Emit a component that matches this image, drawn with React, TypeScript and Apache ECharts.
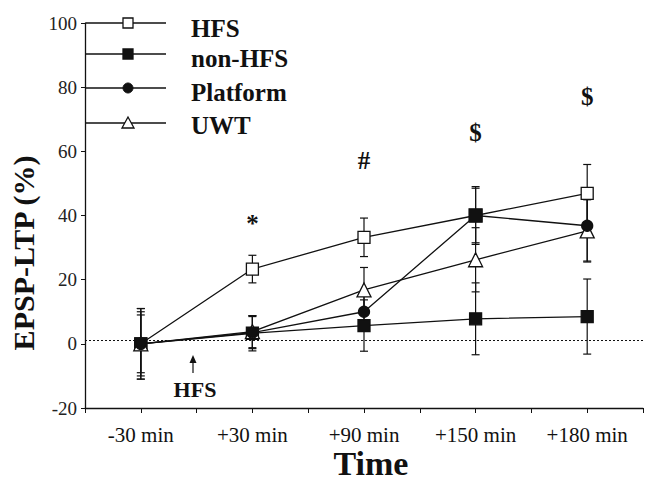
import React, { useEffect, useRef } from "react";
import * as echarts from "echarts";

const categories = ["-30 min", "+30 min", "+90 min", "+150 min", "+180 min"];
const hfs = [0, 23.3, 33.2, 40, 46.9];
const hfsErr = [10, 4.3, 6, 9, 9];
const nonHfs = [0, 3.3, 5.7, 7.8, 8.5];
const nonHfsErr = [11, 5.5, 8, 11.2, 11.7];
const platform = [0, 3.5, 10, 40, 36.8];
const platformErr = [9, 5, 6, 8.5, 11];
const uwt = [0, 3.8, 16.8, 26.2, 35.2];
const uwtErr = [11, 5, 7, 10, 9.7];
const yTicks = [-20, 0, 20, 40, 60, 80, 100];
const annotations = [
  { x: 1, y: 37.5, text: "*" },
  { x: 2, y: 57, text: "#" },
  { x: 3, y: 66, text: "$" },
  { x: 4, y: 77, text: "$" },
];

const FONT = "'Liberation Serif', 'DejaVu Serif', serif";

function errData(vals: number[], errs: number[]) {
  return vals.map((v, i) => [i, v - errs[i], v + errs[i]]);
}

function errSeries(vals: number[], errs: number[]) {
  return {
    type: "custom",
    silent: true,
    z: 1,
    data: errData(vals, errs),
    renderItem: (params: any, api: any) => {
      const x = api.value(0);
      const lo = api.coord([x, api.value(1)]);
      const hi = api.coord([x, api.value(2)]);
      const w = 4;
      const style = { stroke: "#111", lineWidth: 1.2 };
      return {
        type: "group",
        children: [
          { type: "line", shape: { x1: lo[0], y1: lo[1], x2: hi[0], y2: hi[1] }, style },
          { type: "line", shape: { x1: lo[0] - w, y1: lo[1], x2: lo[0] + w, y2: lo[1] }, style },
          { type: "line", shape: { x1: hi[0] - w, y1: hi[1], x2: hi[0] + w, y2: hi[1] }, style },
        ],
      };
    },
  };
}

function lineSeries(name: string, vals: number[], symbol: string, size: number, fill: string, extra: any = {}) {
  return {
    type: "line",
    name,
    data: vals.map((v, i) => [i, v]),
    symbol,
    symbolSize: size,
    showAllSymbol: true,
    z: 3,
    lineStyle: { color: "#111", width: 1.3 },
    itemStyle: { color: fill, borderColor: "#111", borderWidth: 1.3 },
    ...extra,
  };
}

export default function App() {
  const ref = useRef<HTMLDivElement>(null);
  useEffect(() => {
    const chart = echarts.init(ref.current!, null, { renderer: "svg" });
    const legendItems = [
      { name: "HFS", y: 23, ty: 28, kind: "osq" },
      { name: "non-HFS", y: 54, ty: 58, kind: "fsq" },
      { name: "Platform", y: 88, ty: 92, kind: "circle" },
      { name: "UWT", y: 123, ty: 125, kind: "tri" },
    ];
    const legendGraphics: any[] = [];
    legendItems.forEach((it) => {
      const cx = 128;
      legendGraphics.push({
        type: "line",
        shape: { x1: 86, y1: it.y, x2: 166, y2: it.y },
        style: { stroke: "#111", lineWidth: 1.3 },
      });
      if (it.kind === "osq" || it.kind === "fsq") {
        legendGraphics.push({
          type: "rect",
          shape: { x: cx - 5, y: it.y - 5, width: 10, height: 10 },
          style: { fill: it.kind === "osq" ? "#fff" : "#111", stroke: "#111", lineWidth: 1.3 },
        });
      } else if (it.kind === "circle") {
        legendGraphics.push({
          type: "circle",
          shape: { cx: cx, cy: it.y, r: 5 },
          style: { fill: "#111", stroke: "#111" },
        });
      } else {
        legendGraphics.push({
          type: "polygon",
          shape: { points: [[cx, it.y - 6], [cx - 6, it.y + 5], [cx + 6, it.y + 5]] },
          style: { fill: "#fff", stroke: "#111", lineWidth: 1.3 },
        });
      }
      legendGraphics.push({
        type: "text",
        x: 191,
        y: it.ty,
        style: {
          text: it.name,
          font: `bold 25px ${FONT}`,
          fill: "#111",
          verticalAlign: "middle",
        },
      });
    });

    chart.setOption({
      animation: false,
      backgroundColor: "#fff",
      grid: { left: 85, right: 5, top: 23, bottom: 92 },
      xAxis: {
        type: "value",
        min: -0.5,
        max: 4.5,
        interval: 0.5,
        splitLine: { show: false },
        axisLine: { onZero: false, lineStyle: { color: "#111", width: 1.3 } },
        axisTick: { show: true, length: 5, lineStyle: { color: "#111" } },
        axisLabel: {
          color: "#111",
          fontFamily: FONT,
          fontSize: 21,
          margin: 16,
          showMinLabel: true,
          showMaxLabel: true,
          formatter: (v: number) => (Number.isInteger(v) && v >= 0 ? categories[v] : ""),
        },
      },
      yAxis: {
        type: "value",
        min: -20,
        max: 100,
        interval: 20,
        splitLine: { show: false },
        axisLine: { show: true, onZero: false, lineStyle: { color: "#111", width: 1.3 } },
        axisTick: { show: true, length: 4, lineStyle: { color: "#111" } },
        axisLabel: {
          color: "#222",
          fontFamily: FONT,
          fontSize: 19,
          margin: 8,
          formatter: (v: number) => (yTicks.includes(v) ? String(v) : ""),
        },
      },
      series: [
        errSeries(hfs, hfsErr),
        errSeries(nonHfs, nonHfsErr),
        errSeries(platform, platformErr),
        errSeries(uwt, uwtErr),
        lineSeries("HFS", hfs, "rect", 12, "#fff", {
          markLine: {
            silent: true,
            symbol: "none",
            label: { show: false },
            lineStyle: { color: "#111", type: [2, 2], width: 1 },
            data: [{ yAxis: 1 }],
          },
          markPoint: {
            symbol: "circle",
            symbolSize: 0,
            label: {
              show: true,
              color: "#111",
              fontFamily: FONT,
              fontWeight: "bold",
              fontSize: 25,
              formatter: (p: any) => p.name,
            },
            data: annotations.map((a) => ({ name: a.text, coord: [a.x, a.y] })),
          },
        }),
        lineSeries("non-HFS", nonHfs, "rect", 12, "#111"),
        lineSeries(
          "Platform",
          platform,
          "circle",
          11,
          "#111",
          {
            data: platform.map((v, i) =>
              i === 3 ? { value: [i, v], symbol: "rect", symbolSize: 13 } : [i, v]
            ),
            z: 4,
          }
        ),
        lineSeries("UWT", uwt, "triangle", 14, "#fff"),
      ],
      graphic: [
        ...legendGraphics,
        {
          type: "line",
          shape: { x1: 193, y1: 373, x2: 193, y2: 360 },
          style: { stroke: "#111", lineWidth: 1.2 },
        },
        {
          type: "polygon",
          shape: { points: [[193, 355], [189.5, 363], [196.5, 363]] },
          style: { fill: "#111" },
        },
        {
          type: "text",
          x: 195,
          y: 389,
          style: {
            text: "HFS",
            font: `bold 22px ${FONT}`,
            fill: "#111",
            align: "center",
            verticalAlign: "middle",
          },
        },
        {
          type: "text",
          x: 23,
          y: 253,
          rotation: Math.PI / 2,
          style: {
            text: "EPSP-LTP (%)",
            font: `bold 30px ${FONT}`,
            fill: "#111",
            align: "center",
            verticalAlign: "middle",
          },
        },
        {
          type: "text",
          x: 371,
          y: 463,
          style: {
            text: "Time",
            font: `bold 34px ${FONT}`,
            fill: "#111",
            align: "center",
            verticalAlign: "middle",
          },
        },
      ],
    });
    return () => chart.dispose();
  }, []);
  return <div ref={ref} style={{ width: 648, height: 500, position: "absolute", left: 0, top: 0 }} />;
}
